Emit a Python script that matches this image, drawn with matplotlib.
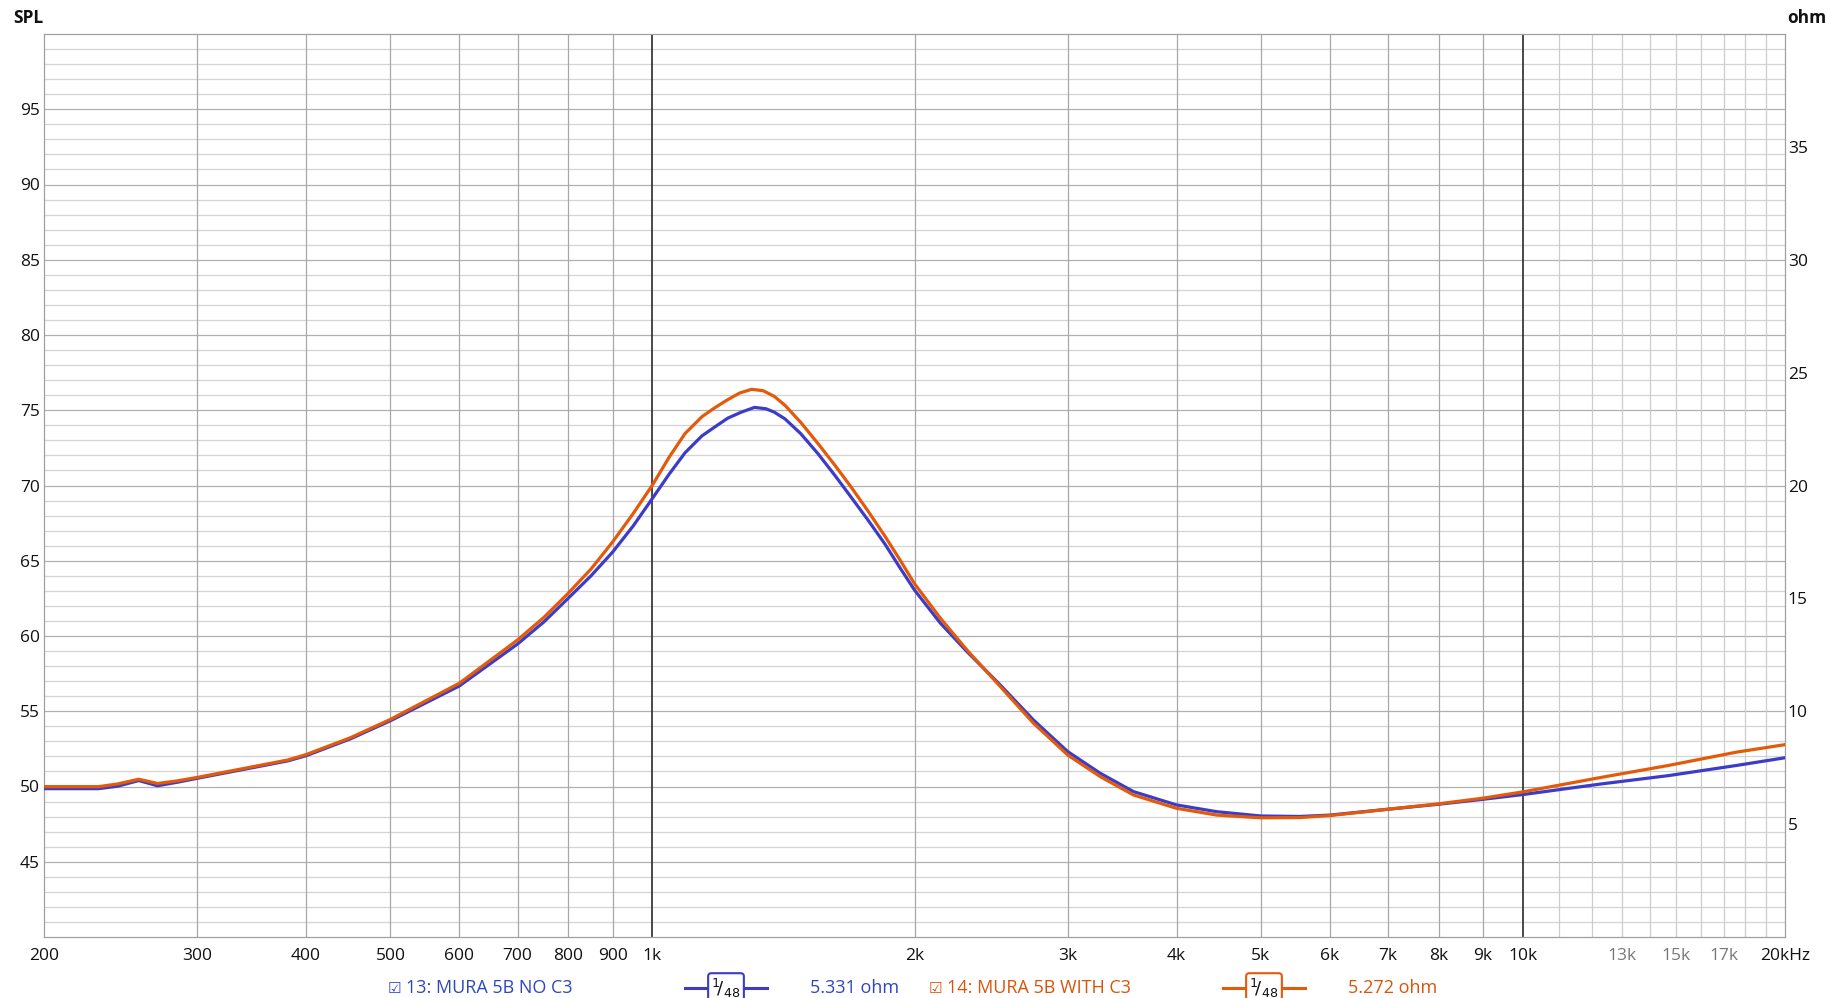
"""Impedance sweep: MURA 5B with / without C3 (200 Hz - 20 kHz)."""
import matplotlib
matplotlib.use("Agg")
import matplotlib.pyplot as plt
from matplotlib.lines import Line2D

plt.rcParams["font.family"] = ["Open Sans", "DejaVu Sans"]

# ---- data (ohm vs Hz) ----
freq_no_c3 = [200, 231, 243, 257, 270, 285, 300, 381, 400, 450, 500, 600, 700, 750, 800, 850,
              900, 950, 1000, 1045, 1090, 1140, 1180, 1220, 1265, 1310, 1350, 1380, 1420, 1480,
              1550, 1620, 1690, 1770, 1850, 1925, 2000, 2142, 2298, 2510, 2740, 3000, 3270,
              3570, 4000, 4450, 5000, 5540, 6000, 7000, 8000, 9000, 10000, 12300, 14700,
              17600, 20000]
ohm_no_c3 = [6.57, 6.57, 6.68, 6.93, 6.70, 6.86, 7.03, 7.80, 8.03, 8.78, 9.58, 11.12, 12.98,
             13.95, 15.00, 16.00, 17.05, 18.20, 19.43, 20.50, 21.45, 22.20, 22.60, 22.98,
             23.25, 23.46, 23.40, 23.25, 22.95, 22.30, 21.40, 20.45, 19.50, 18.45, 17.40,
             16.35, 15.37, 13.90, 12.64, 11.16, 9.61, 8.21, 7.25, 6.44, 5.85, 5.55, 5.36,
             5.34, 5.40, 5.66, 5.88, 6.10, 6.31, 6.78, 7.15, 7.60, 7.94]

freq_with_c3 = [200, 231, 243, 257, 270, 285, 300, 381, 400, 450, 500, 600, 700, 750, 800, 850,
                900, 950, 1000, 1045, 1090, 1140, 1180, 1220, 1260, 1300, 1340, 1380, 1420,
                1480, 1550, 1620, 1690, 1770, 1850, 1925, 2000, 2142, 2298, 2510, 2740, 3000,
                3270, 3570, 4000, 4450, 5000, 5540, 6000, 7000, 8000, 9000, 10000, 12300,
                14700, 17600, 20000]
ohm_with_c3 = [6.66, 6.66, 6.78, 6.99, 6.80, 6.92, 7.07, 7.84, 8.08, 8.83, 9.64, 11.24, 13.16,
               14.15, 15.22, 16.30, 17.50, 18.75, 20.02, 21.25, 22.30, 23.05, 23.45, 23.80,
               24.10, 24.26, 24.20, 23.95, 23.55, 22.80, 21.85, 20.90, 19.95, 18.85, 17.75,
               16.70, 15.65, 14.12, 12.71, 11.09, 9.47, 8.06, 7.10, 6.29, 5.70, 5.40, 5.28,
               5.29, 5.38, 5.66, 5.90, 6.15, 6.43, 7.07, 7.60, 8.19, 8.52]

xticks = [200, 300, 400, 500, 600, 700, 800, 900, 1000, 2000, 3000, 4000, 5000, 6000, 7000,
          8000, 9000, 10000, 13000, 15000, 17000, 20000]
xtick_labels = ["200", "300", "400", "500", "600", "700", "800", "900", "1k", "2k", "3k", "4k",
                "5k", "6k", "7k", "8k", "9k", "10k", "13k", "15k", "17k", "20kHz"]
spl_ticks = [45, 50, 55, 60, 65, 70, 75, 80, 85, 90, 95]
ohm_ticks = [5, 10, 15, 20, 25, 30, 35]

legend = [("13: MURA 5B NO C3", "5.331 ohm"), ("14: MURA 5B WITH C3", "5.272 ohm")]

BLUE, ORANGE = "#3c3cc8", "#e35a0a"
BLUE_TXT, ORANGE_TXT = "#2f46c4", "#d9540b"

W, H = 1827, 998
fig = plt.figure(figsize=(W / 100, H / 100), dpi=100)
ax = fig.add_axes([44 / W, 61 / H, 1741 / W, 903 / H])
ax.set_xscale("log")
ax.set_xlim(200, 20000)
ax.set_ylim(40, 100)

# grid
for db in range(41, 100):
    ax.axhline(db, color="#b0b0b0" if db % 5 == 0 else "#d4d4d4", lw=0.9, zorder=0)
vlines = list(range(300, 1000, 100)) + list(range(2000, 10000, 1000))
for f in vlines:
    ax.axvline(f, color="#a8a8a8", lw=0.9, zorder=0)
for f in range(11000, 20000, 1000):
    ax.axvline(f, color="#cdcdcd", lw=0.9, zorder=0)
for f in (1000, 10000):
    ax.axvline(f, color="#2a2a2a", lw=1.2, zorder=0)
for s in ax.spines.values():
    s.set_color("#a0a0a0")
    s.set_linewidth(0.9)

ax.set_xticks(xticks)
ax.set_xticklabels(xtick_labels)
ax.xaxis.set_minor_locator(matplotlib.ticker.NullLocator())
ax.set_yticks(spl_ticks)
ax.tick_params(axis="both", length=0, labelsize=12.5, labelcolor="#111111")
ax.tick_params(axis="x", pad=8)
ax.tick_params(axis="y", pad=3)
for lab in ax.get_xticklabels():
    if lab.get_text() in ("13k", "15k", "17k"):
        lab.set_color("#777777")

ax2 = ax.twinx()
ax2.set_ylim(0, 40)
ax2.set_yticks(ohm_ticks)
ax2.tick_params(axis="y", length=0, labelsize=12.5, labelcolor="#111111", pad=2)
for s in ax2.spines.values():
    s.set_visible(False)

ax2.plot(freq_no_c3, ohm_no_c3, color=BLUE, lw=2.3, solid_joinstyle="round")
ax2.plot(freq_with_c3, ohm_with_c3, color=ORANGE, lw=2.3, solid_joinstyle="round")

fig.text(13 / W, 1 - 18 / H, "SPL", fontsize=12.5, weight="bold", va="center", color="#111111")
fig.text(1787 / W, 1 - 18 / H, "ohm", fontsize=12.5, weight="bold", va="center", color="#111111")

# legend row along the bottom
ly = 1 - 988 / H
layout = [(388, 685, 767, 810, BLUE, BLUE_TXT), (929, 1223, 1305, 1348, ORANGE, ORANGE_TXT)]
for (name, val), (xn, xs0, xs1, xv, lc, tc) in zip(legend, layout):
    fig.text(xn / W, ly, "\u2611", fontsize=11, color=tc, va="center",
             family=["DejaVu Sans"])
    fig.text((xn + 18) / W, ly, name, fontsize=13, color=tc, va="center")
    fig.add_artist(Line2D([xs0 / W, xs1 / W], [ly, ly], transform=fig.transFigure,
                          color=lc, lw=2.2))
    fig.text((xs0 + xs1) / 2 / W, ly, r"$^{1}\!/_{48}$", fontsize=13, color="#111111",
             ha="center", va="center",
             bbox=dict(boxstyle="round,pad=0.18", fc="white", ec=lc, lw=1.5))
    fig.text(xv / W, ly, val, fontsize=13, color=tc, va="center")

fig.savefig("out.png", dpi=100, facecolor="white")
